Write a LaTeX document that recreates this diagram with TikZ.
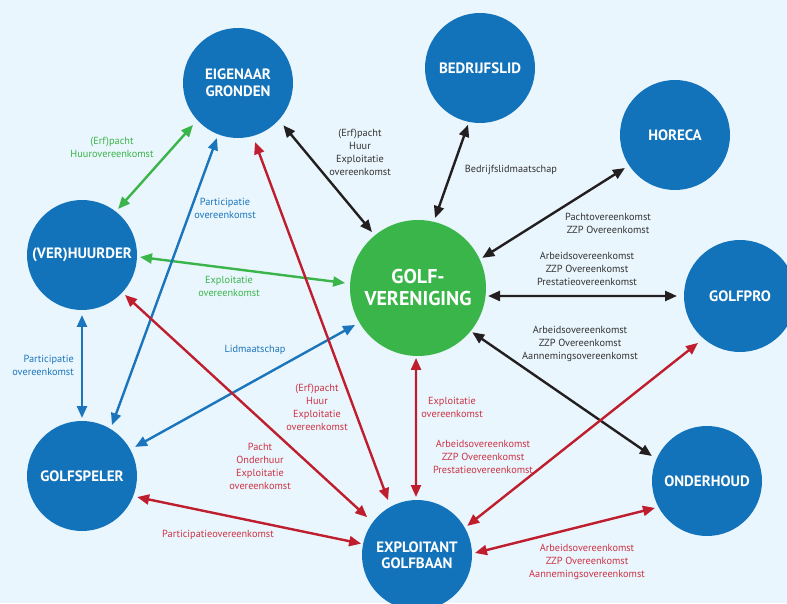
\documentclass[tikz,border=0pt]{standalone}
\usepackage{fontspec}
\setmainfont{PT Sans}
\usetikzlibrary{arrows.meta}
\definecolor{bg}{HTML}{EAF6FD}
\definecolor{cblue}{HTML}{1273BA}
\definecolor{cgreen}{HTML}{3AB54A}
\definecolor{ablue}{HTML}{1B75BC}
\definecolor{ared}{HTML}{BE1E2D}
\definecolor{tred}{HTML}{CC3344}
\definecolor{ablk}{HTML}{231F20}
\definecolor{tblk}{HTML}{333333}
\tikzset{
  party/.style={circle, fill=cblue, minimum size=110pt, inner sep=0pt, outer sep=0pt, text=white, align=center,
    font=\bfseries\fontsize{15}{16.5}\selectfont},
  club/.style={circle, fill=cgreen, minimum size=136pt, inner sep=0pt, outer sep=0pt, text=white, align=center,
    font=\bfseries\fontsize{20}{22}\selectfont},
  link/.style={line width=2.4pt, {Triangle[length=12pt,width=10pt]}-{Triangle[length=12pt,width=10pt]}},
  blk/.style={link, draw=ablk},
  grn/.style={link, draw=cgreen},
  blu/.style={link, draw=ablue},
  rd/.style={link, draw=ared},
  lbl/.style={align=center, inner sep=0pt, font=\fontsize{10.3}{13}\selectfont},
}
\begin{document}
\begin{tikzpicture}[x=1pt,y=1pt]
\fill[bg] (0,0) rectangle (787,603);
\useasboundingbox (0,0) rectangle (787,603);

% parties
\node[party] (eig) at (238,520) {EIGENAAR\\GRONDEN};
\node[party] (bed) at (480,535) {BEDRIJFSLID};
\node[party] (hor) at (675,468) {HORECA};
\node[party] (ver) at (82,348) {(VER)HUURDER};
\node[club]  (golf) at (418,315) {GOLF-\\VERENIGING};
\node[party, minimum size=112pt] (pro) at (740,307) {GOLFPRO};
\node[party] (ond) at (707,122) {ONDERHOUD};
\node[party] (spel) at (82,127) {GOLFSPELER};
\node[party] (expl) at (417,48) {EXPLOITANT\\GOLFBAAN};

% black connectors
\draw[blk] ([shift={(-43:62)}]eig.center) -- ([shift={(129.4:72.5)}]golf.center);
\draw[blk] ([shift={(-101.9:58)}]bed.center) -- ([shift={(76.3:72)}]golf.center);
\draw[blk] ([shift={(-146.6:60)}]hor.center) -- ([shift={(25.1:71)}]golf.center);
\draw[blk] ([shift={(-6.5:70.5)}]golf.center) -- ([shift={(180:63)}]pro.center);
\draw[blk] ([shift={(-39.2:70)}]golf.center) -- ([shift={(155.6:60.5)}]ond.center);

% green connectors
\draw[grn] ([shift={(-137:61.5)}]eig.center) -- ([shift={(51.9:58.5)}]ver.center);
\draw[grn] ([shift={(-2:58)}]ver.center) -- ([shift={(176.1:73)}]golf.center);

% blue connectors
\draw[blu] ([shift={(-90:60)}]ver.center) -- ([shift={(90:58)}]spel.center);
\draw[blu] ([shift={(-110.9:59)}]eig.center) -- ([shift={(59.5:59)}]spel.center);
\draw[blu] ([shift={(-149.6:73)}]golf.center) -- ([shift={(28.7:60.5)}]spel.center);

% red connectors
\draw[rd] ([shift={(-73.9:61.5)}]eig.center) -- ([shift={(117.8:62)}]expl.center);
\draw[rd] ([shift={(-42.9:58.7)}]ver.center) -- ([shift={(142.8:62.5)}]expl.center);
\draw[rd] ([shift={(-20.9:59)}]spel.center) -- ([shift={(168.5:57)}]expl.center);
\draw[rd] ([shift={(-91.6:70)}]golf.center) -- ([shift={(91:58)}]expl.center);
\draw[rd] ([shift={(-131.8:63)}]pro.center) -- ([shift={(30.1:58)}]expl.center);
\draw[rd] ([shift={(-152.6:58.6)}]ond.center) -- ([shift={(2:58)}]expl.center);

% labels
\node[lbl, text=tblk] (l1) at (360,451) {(Erf)pacht\\Huur\\Exploitatie\\overeenkomst};
\node[lbl, text=tblk] (l2) at (511,433) {Bedrijfslidmaatschap};
\node[lbl, text=tblk] (l3) at (608,380) {Pachtovereenkomst\\ZZP Overeenkomst};
\node[lbl, text=tblk] (l4) at (587,334) {Arbeidsovereenkomst\\ZZP Overeenkomst\\Prestatieovereenkomst};
\node[lbl, text=tblk] (l5) at (580,259) {Arbeidsovereenkomst\\ZZP Overeenkomst\\Aannemingsovereenkomst};
\node[lbl, text=cgreen] (l6) at (112,456) {(Erf)pacht\\Huurovereenkomst};
\node[lbl, text=cgreen] (l7) at (229,317) {Exploitatie\\overeenkomst};
\node[lbl, text=ablue, anchor=east, align=right] (l8) at (74,238) {Participatie\\overeenkomst};
\node[lbl, text=ablue] (l9) at (225,395) {Participatie\\overeenkomst};
\node[lbl, text=ablue] (l10) at (255,253) {Lidmaatschap};
\node[lbl, text=tred] (l11) at (317,196) {(Erf)pacht\\Huur\\Exploitatie\\overeenkomst};
\node[lbl, text=tred] (l12) at (260,137) {Pacht\\Onderhuur\\Exploitatie\\overeenkomst};
\node[lbl, text=tred] (l13) at (218,68) {Participatieovereenkomst};
\node[lbl, text=tred] (l14) at (452,196) {Exploitatie\\overeenkomst};
\node[lbl, text=tred] (l15) at (483,146) {Arbeidsovereenkomst\\ZZP Overeenkomst\\Prestatieovereenkomst};
\node[lbl, text=tred] (l16) at (587,41) {Arbeidsovereenkomst\\ZZP Overeenkomst\\Aannemingsovereenkomst};
\end{tikzpicture}
\end{document}
